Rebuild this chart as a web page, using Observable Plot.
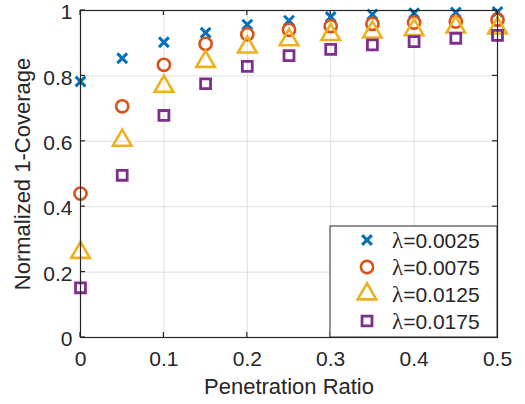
<!DOCTYPE html>
<html>
<head>
<meta charset="utf-8">
<script src="https://cdn.jsdelivr.net/npm/d3@7"></script>
<script src="https://cdn.jsdelivr.net/npm/@observablehq/plot@0.6"></script>
<style>
  html, body { margin: 0; padding: 0; background: #fff; }
  #chart svg { display: block; }
</style>
</head>
<body>
<div id="chart"></div>
<script>
// Penetration ratio sampled every 0.05
const ratios = [0, 0.05, 0.1, 0.15, 0.2, 0.25, 0.3, 0.35, 0.4, 0.45, 0.5];

// Normalized 1-coverage for each arrival rate λ
const lambdas = ["0.0025", "0.0075", "0.0125", "0.0175"];
const cov0025 = [0.783, 0.854, 0.903, 0.932, 0.957, 0.969, 0.980, 0.988, 0.992, 0.994, 0.996];
const cov0075 = [0.440, 0.707, 0.834, 0.898, 0.927, 0.941, 0.952, 0.959, 0.963, 0.966, 0.972];
const cov0125 = [0.260, 0.603, 0.768, 0.844, 0.888, 0.910, 0.926, 0.934, 0.941, 0.949, 0.946];
const cov0175 = [0.152, 0.496, 0.679, 0.776, 0.829, 0.862, 0.881, 0.895, 0.905, 0.915, 0.924];

const xTicks = [0, 0.1, 0.2, 0.3, 0.4, 0.5];
const yTicks = [0, 0.2, 0.4, 0.6, 0.8, 1];

const series = [
  {lambda: lambdas[0], values: cov0025, symbol: "times",    color: "#0072BD", r: 4.5, sw: 3},
  {lambda: lambdas[1], values: cov0075, symbol: "circle",   color: "#D95319", r: 6.1, sw: 2.6},
  {lambda: lambdas[2], values: cov0125, symbol: "triangle", color: "#EDB120", r: 6.9, sw: 2.6},
  {lambda: lambdas[3], values: cov0175, symbol: "square",   color: "#7E2F8E", r: 5.6, sw: 2.8}
];

const font = "'Liberation Sans', Arial, Helvetica, sans-serif";
const ink = "#262626";

const dotMarks = series.map(s =>
  Plot.dot(ratios.map((x, i) => ({x, y: s.values[i]})), {
    x: "x", y: "y", symbol: () => s.symbol, r: s.r,
    stroke: s.color, strokeWidth: s.sw, fill: "none"
  })
);

const plot = Plot.plot({
  width: 525,
  height: 404,
  marginLeft: 80,
  marginRight: 28,
  marginTop: 10,
  marginBottom: 67,
  style: {fontFamily: font, fontSize: "21px", color: ink, background: "#fff"},
  x: {domain: [0, 0.5]},
  y: {domain: [0, 1]},
  symbol: {type: "identity"},
  marks: [
    Plot.gridX(xTicks.slice(1, -1), {stroke: "#dedede", strokeOpacity: 1, strokeWidth: 1}),
    Plot.gridY(yTicks.slice(1, -1), {stroke: "#dedede", strokeOpacity: 1, strokeWidth: 1}),
    Plot.axisX(xTicks, {anchor: "bottom", tickSize: 0, tickPadding: 14, fontSize: 21,
      tickFormat: d => String(d), label: null}),
    Plot.axisX({anchor: "bottom", ticks: [], label: "Penetration Ratio", labelAnchor: "center",
      labelArrow: "none", labelOffset: 56, fontSize: 22}),
    Plot.axisY(yTicks, {anchor: "left", tickSize: 0, tickPadding: 8, fontSize: 21, dy: 2,
      tickFormat: d => String(d), label: null}),
    Plot.axisY({anchor: "left", ticks: [], label: "Normalized 1-Coverage", labelAnchor: "center",
      labelArrow: "none", labelOffset: 66, fontSize: 22}),
    ...dotMarks,
    Plot.frame({stroke: ink, strokeWidth: 1.2})
  ]
});

document.getElementById("chart").appendChild(plot);

// Inward tick marks on all four sides, and the legend box
const svg = d3.select(plot);
const sx = plot.scale("x"), sy = plot.scale("y");
const [x0, x1] = sx.range, [y0, y1] = sy.range; // y0 bottom, y1 top
const tk = 5;
const ticks = svg.append("g").attr("stroke", ink).attr("stroke-width", 1.2);
xTicks.forEach(t => {
  const px = sx.apply(t);
  ticks.append("line").attr("x1", px).attr("x2", px).attr("y1", y0).attr("y2", y0 - tk);
  ticks.append("line").attr("x1", px).attr("x2", px).attr("y1", y1).attr("y2", y1 + tk);
});
yTicks.forEach(t => {
  const py = sy.apply(t);
  ticks.append("line").attr("x1", x0).attr("x2", x0 + tk).attr("y1", py).attr("y2", py);
  ticks.append("line").attr("x1", x1).attr("x2", x1 - tk).attr("y1", py).attr("y2", py);
});

// Legend in the lower-right corner of the frame
const legW = 167, legH = 111, rowH = 27;
const lx = x1 - legW, ly = y0 - legH;
const leg = svg.append("g").attr("text-anchor", "start");
leg.append("rect").attr("x", lx).attr("y", ly).attr("width", legW).attr("height", legH)
  .attr("fill", "#fff").attr("stroke", ink).attr("stroke-width", 1);
const symbolTypes = {times: d3.symbolTimes, circle: d3.symbolCircle, triangle: d3.symbolTriangle, square: d3.symbolSquare};
series.forEach((s, i) => {
  const cy = ly + 14 + i * rowH;
  leg.append("path")
    .attr("d", d3.symbol(symbolTypes[s.symbol], Math.PI * s.r * s.r)())
    .attr("transform", `translate(${lx + 37},${cy})`)
    .attr("fill", "none").attr("stroke", s.color).attr("stroke-width", s.sw);
  const t = leg.append("text").attr("x", lx + 62).attr("y", cy).attr("dy", "0.36em")
    .attr("font-family", font).attr("font-size", 21).attr("fill", ink);
  t.append("tspan").attr("font-family", "'Liberation Serif', 'Times New Roman', serif")
    .attr("font-size", 23).text("λ");
  t.append("tspan").text("=" + s.lambda);
});
</script>
</body>
</html>
